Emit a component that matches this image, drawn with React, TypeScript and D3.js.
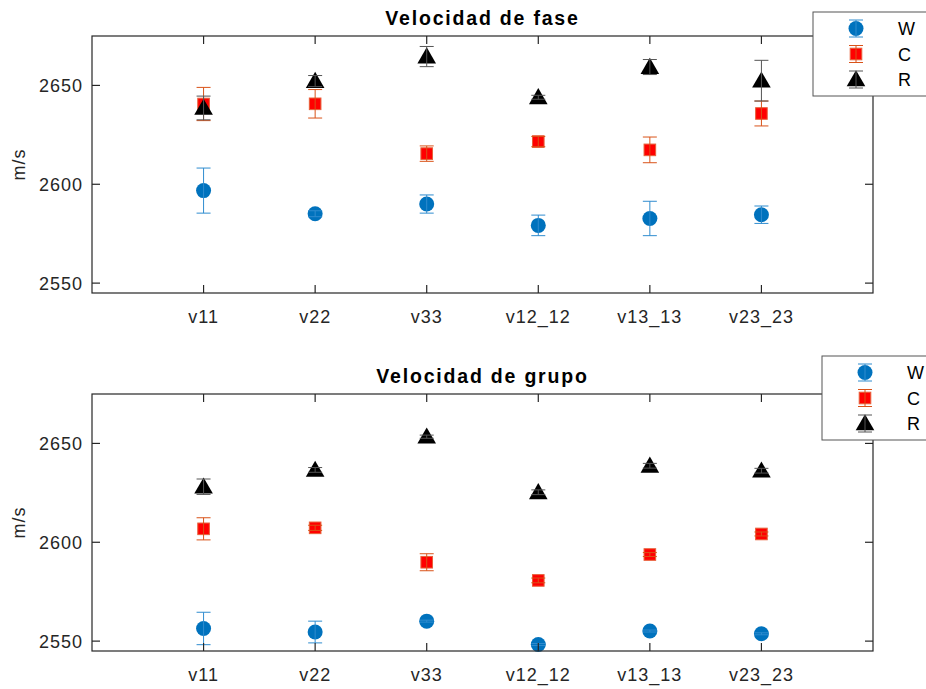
import React from 'react';
import * as d3 from 'd3';

const categories = ['v11', 'v22', 'v33', 'v12_12', 'v13_13', 'v23_23'];
const yTicks = [2550, 2600, 2650];
const seriesNames = ['W', 'C', 'R'];

// Velocidad de fase
const faseW = [2596.8, 2585.1, 2590, 2579.2, 2582.7, 2584.6];
const faseWErr = [11.4, 1.5, 4.6, 5.2, 8.7, 4.4];
const faseC = [2640.6, 2640.7, 2615.5, 2621.6, 2617.4, 2635.8];
const faseCErr = [8.4, 7.2, 3.9, 2.6, 6.5, 6.3];
const faseR = [2638.6, 2652.2, 2664.6, 2644, 2659.3, 2652.4];
const faseRErr = [6, 2.8, 5.1, 1, 3.8, 10.3];

// Velocidad de grupo
const grupoW = [2556.4, 2554.6, 2560.1, 2548.3, 2555.1, 2553.7];
const grupoWErr = [8.2, 5.5, 0.5, 0.5, 0.5, 0.5];
const grupoC = [2606.8, 2607.3, 2589.9, 2580.7, 2593.8, 2604.2];
const grupoCErr = [5.6, 1.3, 4.3, 1.2, 1, 1];
const grupoR = [2628.1, 2636.6, 2653.4, 2625.3, 2638.7, 2636.2];
const grupoRErr = [3.9, 1.2, 0.8, 1.2, 1.2, 1.2];

const FONT = '"Liberation Sans", Arial, Helvetica, sans-serif';
const AX = '#262626';

const styles = [
  { fill: '#0072BD', stroke: '#0072BD', bar: '#2f8ccf', shape: 'circle' },
  { fill: '#FF0000', stroke: '#e8603a', bar: '#D95319', shape: 'square' },
  { fill: '#000000', stroke: '#000000', bar: '#555555', shape: 'triangle' },
];

type Series = { values: number[]; errs: number[] };

const Marker = ({ shape, x, y, s }: { shape: string; x: number; y: number; s: typeof styles[0] }) => {
  if (shape === 'circle') return <circle cx={x} cy={y} r={7.5} fill={s.fill} />;
  if (shape === 'square')
    return <rect x={x - 5.8} y={y - 5.8} width={11.6} height={11.6} fill={s.fill} stroke={s.stroke} strokeWidth={1} />;
  const tri = d3.symbol().type(d3.symbolTriangle).size(150)() as string;
  return <path d={tri} transform={`translate(${x},${y + 1.5})`} fill={s.fill} />;
};

const ErrBar = ({ x, y0, y1, color }: { x: number; y0: number; y1: number; color: string }) => (
  <g stroke={color} strokeWidth={1}>
    <line x1={x} x2={x} y1={y0} y2={y1} />
    <line x1={x - 7} x2={x + 7} y1={y0} y2={y0} />
    <line x1={x - 7} x2={x + 7} y1={y1} y2={y1} />
  </g>
);

const Panel = ({
  top,
  title,
  series,
  legend,
}: {
  top: number;
  title: string;
  series: Series[];
  legend: { x: number; y: number; mx: number; tx: number };
}) => {
  const left = 92;
  const right = 873;
  const bottom = top + 257;
  const x = d3.scaleLinear().domain([0, 7]).range([left, right]);
  const y = d3.scaleLinear().domain([2545, 2675]).range([bottom, top]);
  const tl = 8;

  return (
    <g fontFamily={FONT}>
      <text
        x={(left + right) / 2}
        y={top - 11}
        textAnchor="middle"
        fontSize={19.5}
        fontWeight="bold"
        letterSpacing={1.8}
        fill="#000"
      >
        {title}
      </text>
      <rect x={left} y={top} width={right - left} height={bottom - top} fill="#fff" />
      {series.map((ser, si) =>
        ser.values.map((v, i) => (
          <g key={`${si}-${i}`}>
            <Marker shape={styles[si].shape} x={x(i + 1)} y={y(v)} s={styles[si]} />
            <ErrBar x={x(i + 1)} y0={y(v + ser.errs[i])} y1={y(v - ser.errs[i])} color={styles[si].bar} />
          </g>
        ))
      )}
      <rect x={left} y={top} width={right - left} height={bottom - top} fill="none" stroke={AX} strokeWidth={1.2} />
      {categories.map((c, i) => (
        <g key={c}>
          <line x1={x(i + 1)} x2={x(i + 1)} y1={bottom} y2={bottom - tl} stroke={AX} strokeWidth={1.2} />
          <line x1={x(i + 1)} x2={x(i + 1)} y1={top} y2={top + tl} stroke={AX} strokeWidth={1.2} />
          <text x={x(i + 1)} y={bottom + 30} textAnchor="middle" fontSize={18} letterSpacing={1} fill={AX}>
            {c}
          </text>
        </g>
      ))}
      {yTicks.map((t) => (
        <g key={t}>
          <line x1={left} x2={left + tl} y1={y(t)} y2={y(t)} stroke={AX} strokeWidth={1.2} />
          <line x1={right} x2={right - tl} y1={y(t)} y2={y(t)} stroke={AX} strokeWidth={1.2} />
          <text x={left - 9} y={y(t) + 6.5} textAnchor="end" fontSize={18} letterSpacing={1} fill={AX}>
            {t}
          </text>
        </g>
      ))}
      <text
        transform={`translate(${25},${(top + bottom) / 2}) rotate(-90)`}
        textAnchor="middle"
        fontSize={18}
        letterSpacing={1}
        fill={AX}
      >
        m/s
      </text>
      <rect x={legend.x} y={legend.y} width={120} height={84} fill="#fff" stroke="#555" strokeWidth={1} />
      {seriesNames.map((n, i) => {
        const cy = legend.y + 16.5 + i * 25.5;
        return (
          <g key={n}>
            <Marker shape={styles[i].shape} x={legend.mx} y={cy} s={styles[i]} />
            <ErrBar x={legend.mx} y0={cy - 8.5} y1={cy + 8.5} color={styles[i].bar} />
            <text x={legend.tx} y={cy + 6.5} fontSize={18} fill="#000">
              {n}
            </text>
          </g>
        );
      })}
    </g>
  );
};

export default function App() {
  const fase: Series[] = [
    { values: faseW, errs: faseWErr },
    { values: faseC, errs: faseCErr },
    { values: faseR, errs: faseRErr },
  ];
  const grupo: Series[] = [
    { values: grupoW, errs: grupoWErr },
    { values: grupoC, errs: grupoCErr },
    { values: grupoR, errs: grupoRErr },
  ];
  return (
    <svg
      width={926}
      height={689}
      style={{ position: 'absolute', left: 0, top: 0, background: '#fff' }}
    >
      <rect width={926} height={689} fill="#fff" />
      <Panel top={36} title="Velocidad de fase" series={fase} legend={{ x: 813, y: 12, mx: 856, tx: 898 }} />
      <Panel top={394} title="Velocidad de grupo" series={grupo} legend={{ x: 822, y: 356, mx: 865, tx: 907 }} />
    </svg>
  );
}
